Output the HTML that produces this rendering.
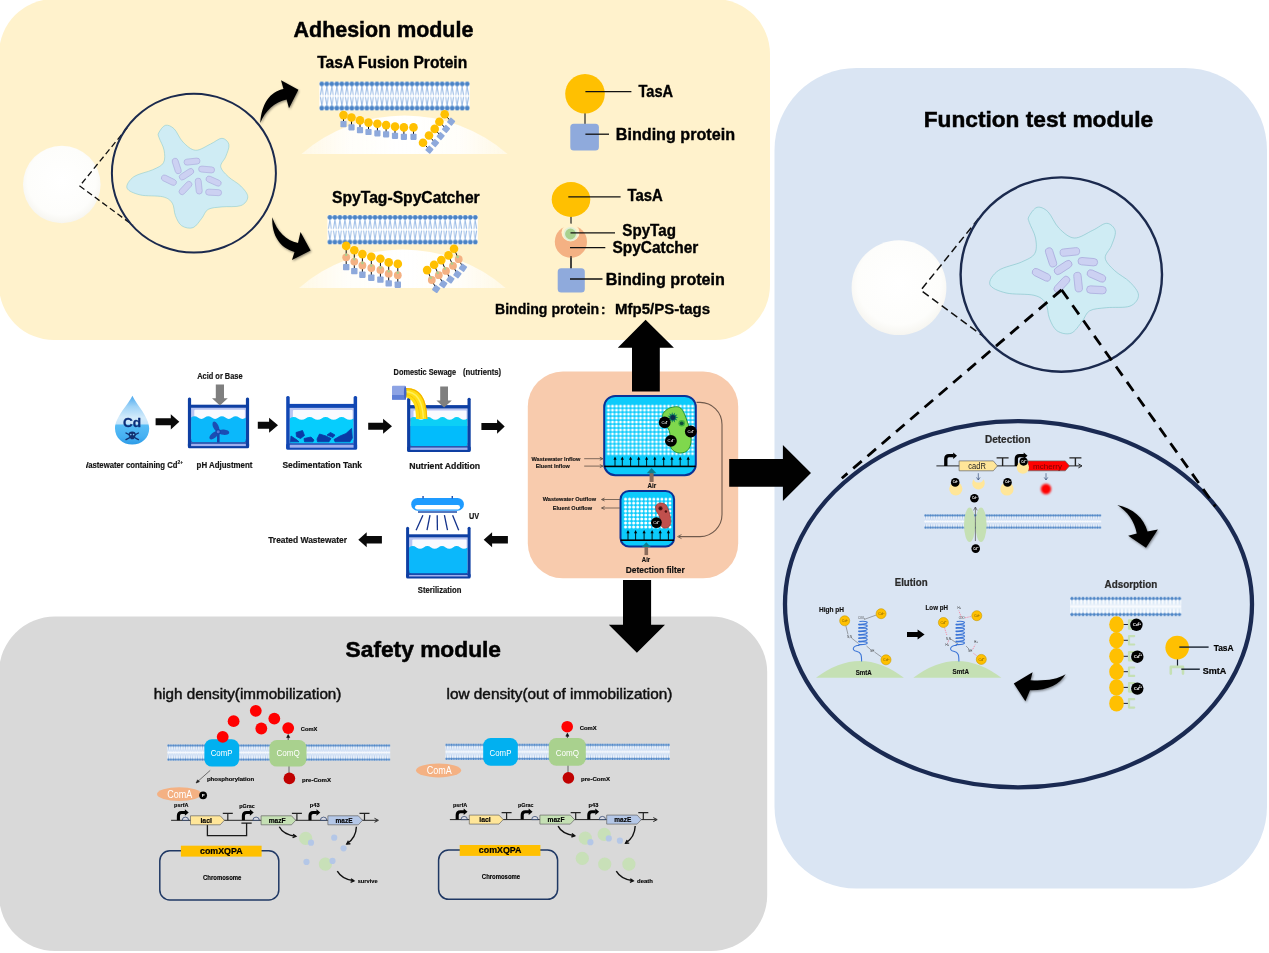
<!DOCTYPE html>
<html><head><meta charset="utf-8"><title>Module overview</title>
<style>
html,body{margin:0;padding:0;background:#fff;}
body{width:1269px;height:953px;overflow:hidden;font-family:"Liberation Sans",sans-serif;}
svg{display:block;will-change:transform;opacity:0.9999;}
text{font-family:"Liberation Sans",sans-serif;}
</style></head><body>
<svg width="1269" height="953" viewBox="0 0 1269 953">
<!-- p01_panels.py -->
<defs>
<filter id="sh" x="-30%" y="-30%" width="160%" height="160%"><feDropShadow dx="0.8" dy="1.2" stdDeviation="1.2" flood-color="#000" flood-opacity="0.45"/></filter>
<filter id="soft" x="-20%" y="-20%" width="140%" height="140%"><feGaussianBlur stdDeviation="0.6"/></filter>
<filter id="glow" x="-50%" y="-50%" width="200%" height="200%"><feGaussianBlur stdDeviation="0.9"/></filter>
<radialGradient id="sph" cx="0.5" cy="0.45" r="0.55"><stop offset="0" stop-color="#ffffff"/><stop offset="0.8" stop-color="#fdfdfb"/><stop offset="1" stop-color="#f6f5f0"/></radialGradient>
<linearGradient id="moundg" x1="0" y1="0" x2="1" y2="0"><stop offset="0" stop-color="#fffefb" stop-opacity="0.55"/><stop offset="0.22" stop-color="#fffefb" stop-opacity="0.95"/><stop offset="0.5" stop-color="#ffffff" stop-opacity="1"/><stop offset="0.78" stop-color="#fffefb" stop-opacity="0.95"/><stop offset="1" stop-color="#fffefb" stop-opacity="0.55"/></linearGradient>
<linearGradient id="mound" x1="0" y1="0" x2="0" y2="1"><stop offset="0" stop-color="#fffdf6"/><stop offset="1" stop-color="#ffffff"/></linearGradient>
</defs>
<rect x="0" y="0" width="1269" height="953" fill="#ffffff"/>
<rect x="-1" y="-1" width="771" height="341" rx="55" ry="55" fill="#fff2cc"/>
<rect x="774.5" y="68" width="492.5" height="820.5" rx="82" ry="82" fill="#dae5f3"/>
<rect x="-1" y="616.5" width="768.2" height="334.5" rx="56" ry="56" fill="#d9d9d9"/>
<rect x="527.8" y="371.5" width="210.4" height="206.8" rx="35" ry="35" fill="#f8cbad"/>
<!-- big arrows -->
<path d="M645.6 319.7 L673.9 347.8 L659.8 347.8 L659.8 391.5 L632 391.5 L632 347.8 L617.8 347.8 Z" fill="#000"/>
<path d="M729.2 459.1 L782.9 459.1 L782.9 445.1 L811 473 L782.9 501 L782.9 486.8 L729.2 486.8 Z" fill="#000"/>
<path d="M623 579.9 L651.1 579.9 L651.1 624.8 L665 624.8 L636.9 652.8 L608.8 624.8 L623 624.8 Z" fill="#000"/>

<!-- p02_adhesion.py -->
<text x="293.6" y="37.0" font-size="22.55" font-weight="bold" text-anchor="start" fill="#000" textLength="179.7" lengthAdjust="spacingAndGlyphs"  stroke="#000" stroke-width="0.50">Adhesion module</text><text x="317.2" y="67.8" font-size="15.73" font-weight="bold" text-anchor="start" fill="#000" textLength="150.0" lengthAdjust="spacingAndGlyphs"  stroke="#000" stroke-width="0.35">TasA Fusion Protein</text><text x="332.0" y="203.4" font-size="15.73" font-weight="bold" text-anchor="start" fill="#000" textLength="147.7" lengthAdjust="spacingAndGlyphs"  stroke="#000" stroke-width="0.35">SpyTag-SpyCatcher</text><circle cx="61.8" cy="184.5" r="38.8" fill="url(#sph)" filter="url(#soft)"/><path d="M127.3 127.6 L79.7 186 L132.9 225.2" fill="none" stroke="#111" stroke-width="1.3" stroke-dasharray="6 3.4"/><ellipse cx="193.9" cy="173.2" rx="82" ry="79.4" fill="none" stroke="#1b2a4e" stroke-width="2"/><g transform="translate(186.5 176.9) scale(1.000)"><path d="M-27.8 -44.0 C-26.78 -46.08 -23.73 -50.91 -21.15 -51.58 C-18.57 -52.25 -15.28 -50.84 -12.34 -48.05 C-9.41 -45.26 -7.10 -38.41 -3.53 -34.84 C0.03 -31.27 4.44 -26.97 9.05 -26.66 C13.67 -26.34 19.75 -30.96 24.16 -32.95 C28.56 -34.94 32.44 -38.72 35.49 -38.61 C38.53 -38.51 41.78 -35.36 42.41 -32.32 C43.04 -29.28 40.63 -24.04 39.26 -20.36 C37.90 -16.69 33.81 -13.65 34.23 -10.30 C34.65 -6.94 38.42 -3.48 41.78 -0.23 C45.14 3.03 51.11 5.86 54.37 9.21 C57.62 12.57 61.29 16.66 61.29 19.91 C61.29 23.16 58.67 27.04 54.37 28.72 C50.06 30.40 40.94 29.35 35.49 29.98 C30.03 30.61 25.00 30.61 21.64 32.50 C18.28 34.39 17.86 38.27 15.35 41.31 C12.83 44.35 9.89 49.49 6.54 50.75 C3.18 52.01 -1.85 50.85 -4.79 48.86 C-7.73 46.87 -9.51 42.57 -11.08 38.79 C-12.66 35.02 -12.13 29.35 -14.23 26.21 C-16.33 23.06 -18.32 21.28 -23.67 19.91 C-29.02 18.55 -40.35 19.49 -46.33 18.02 C-52.31 16.56 -58.49 14.14 -59.54 11.10 C-60.59 8.06 -56.92 2.82 -52.62 -0.23 C-48.32 -3.27 -38.67 -4.84 -33.74 -7.15 C-28.81 -9.46 -24.93 -10.82 -23.04 -14.07 C-21.15 -17.32 -21.68 -22.46 -22.41 -26.66 C-23.15 -30.85 -26.55 -36.35 -27.45 -39.24 C-28.35 -42.14 -28.87 -41.97 -27.82 -44.03 Z" fill="#cfecf4" stroke="#7fc4c9" stroke-width="0.5"/><rect x="-8" y="-3" width="16" height="6" rx="3" transform="translate(-9.8 -10.9) rotate(72)" fill="#ccd1f2" stroke="#a9a9dc" stroke-width="0.6"/><rect x="-8" y="-3" width="16" height="6" rx="3" transform="translate(5.5 -15.3) rotate(-6)" fill="#ccd1f2" stroke="#a9a9dc" stroke-width="0.6"/><rect x="-8" y="-3" width="16" height="6" rx="3" transform="translate(20.1 -7.4) rotate(5)" fill="#ccd1f2" stroke="#a9a9dc" stroke-width="0.6"/><rect x="-8" y="-3" width="16" height="6" rx="3" transform="translate(0.0 -2.7) rotate(-33)" fill="#ccd1f2" stroke="#a9a9dc" stroke-width="0.6"/><rect x="-8" y="-3" width="16" height="6" rx="3" transform="translate(-17.6 3.3) rotate(26)" fill="#ccd1f2" stroke="#a9a9dc" stroke-width="0.6"/><rect x="-8" y="-3" width="16" height="6" rx="3" transform="translate(27.1 4.2) rotate(24)" fill="#ccd1f2" stroke="#a9a9dc" stroke-width="0.6"/><rect x="-8" y="-3" width="16" height="6" rx="3" transform="translate(-1.0 11.1) rotate(-47)" fill="#ccd1f2" stroke="#a9a9dc" stroke-width="0.6"/><rect x="-8" y="-3" width="16" height="6" rx="3" transform="translate(12.2 9.2) rotate(84)" fill="#ccd1f2" stroke="#a9a9dc" stroke-width="0.6"/><rect x="-8" y="-3" width="16" height="6" rx="3" transform="translate(27.1 15.5) rotate(3)" fill="#ccd1f2" stroke="#a9a9dc" stroke-width="0.6"/></g><g filter="url(#sh)"><path d="M260.3 123 C261.5 104 270 91.5 283.5 89 L281 80.3 L298.4 89.8 L289 108.2 L286.6 99.6 C274.5 102 265.5 110.5 260.3 123 Z" fill="#000"/><path d="M272.3 217.3 C277 231.5 286 240.5 298 243 L300.5 232 L310.6 250.6 L292 260 L294.5 252 C280.5 248 271.5 236 272.3 217.3 Z" fill="#000"/></g><path d="M301.5 154 A157.3 157.3 0 0 1 507.5 154 Z" fill="url(#moundg)" filter="url(#soft)"/><path d="M299 288 A158 158 0 0 1 505.6 288 Z" fill="url(#moundg)" filter="url(#soft)"/><pattern id="mbA" x="319.30" y="81.60" width="5.013" height="28.80" patternUnits="userSpaceOnUse"><rect width="5.013" height="28.80" fill="#ffffff"/><path d="M2.51 4.60 L1.15 13.50 M2.51 4.60 L3.86 13.50 M2.51 24.20 L1.15 15.30 M2.51 24.20 L3.86 15.30" stroke="#9dbde6" stroke-width="1.00" fill="none"/><circle cx="2.51" cy="2.30" r="2.30" fill="#4a83c6"/><circle cx="2.51" cy="26.50" r="2.30" fill="#4a83c6"/></pattern><rect x="319.30" y="81.60" width="150.40" height="28.80" fill="url(#mbA)"/><pattern id="mbB" x="327.40" y="215.10" width="5.013" height="29.20" patternUnits="userSpaceOnUse"><rect width="5.013" height="29.20" fill="#ffffff"/><path d="M2.51 4.60 L1.15 13.70 M2.51 4.60 L3.86 13.70 M2.51 24.60 L1.15 15.50 M2.51 24.60 L3.86 15.50" stroke="#9dbde6" stroke-width="1.00" fill="none"/><circle cx="2.51" cy="2.30" r="2.30" fill="#4a83c6"/><circle cx="2.51" cy="26.90" r="2.30" fill="#4a83c6"/></pattern><rect x="327.40" y="215.10" width="150.40" height="29.20" fill="url(#mbB)"/><line x1="343.5" y1="115.1" x2="343.5" y2="123.8" stroke="#111" stroke-width="1.0"/><line x1="351.5" y1="117.5" x2="351.5" y2="127.0" stroke="#111" stroke-width="1.0"/><line x1="360.0" y1="120.4" x2="360.0" y2="129.8" stroke="#111" stroke-width="1.0"/><line x1="368.5" y1="122.6" x2="368.5" y2="131.7" stroke="#111" stroke-width="1.0"/><line x1="377.4" y1="123.8" x2="377.4" y2="133.0" stroke="#111" stroke-width="1.0"/><line x1="386.1" y1="125.1" x2="386.1" y2="134.0" stroke="#111" stroke-width="1.0"/><line x1="395.0" y1="126.6" x2="395.0" y2="135.5" stroke="#111" stroke-width="1.0"/><line x1="403.9" y1="127.4" x2="403.9" y2="136.5" stroke="#111" stroke-width="1.0"/><line x1="413.5" y1="127.4" x2="413.5" y2="136.5" stroke="#111" stroke-width="1.0"/><line x1="444.7" y1="114.3" x2="451.1" y2="121.7" stroke="#111" stroke-width="1.0"/><line x1="439.4" y1="121.7" x2="446.0" y2="128.9" stroke="#111" stroke-width="1.0"/><line x1="434.7" y1="128.9" x2="440.7" y2="136.1" stroke="#111" stroke-width="1.0"/><line x1="429.0" y1="135.5" x2="435.1" y2="143.1" stroke="#111" stroke-width="1.0"/><line x1="423.0" y1="142.7" x2="429.4" y2="149.7" stroke="#111" stroke-width="1.0"/><rect x="340.4" y="121.0" width="6.2" height="6.2" rx="0.8" fill="#8ea9db"/><rect x="348.4" y="124.2" width="6.2" height="6.2" rx="0.8" fill="#8ea9db"/><rect x="356.9" y="127.0" width="6.2" height="6.2" rx="0.8" fill="#8ea9db"/><rect x="365.4" y="128.9" width="6.2" height="6.2" rx="0.8" fill="#8ea9db"/><rect x="374.3" y="130.2" width="6.2" height="6.2" rx="0.8" fill="#8ea9db"/><rect x="383.0" y="131.2" width="6.2" height="6.2" rx="0.8" fill="#8ea9db"/><rect x="391.9" y="132.7" width="6.2" height="6.2" rx="0.8" fill="#8ea9db"/><rect x="400.8" y="133.7" width="6.2" height="6.2" rx="0.8" fill="#8ea9db"/><rect x="410.4" y="133.7" width="6.2" height="6.2" rx="0.8" fill="#8ea9db"/><rect x="-3.1" y="-3.1" width="6.2" height="6.2" rx="0.8" fill="#8ea9db" transform="translate(451.1 121.7) rotate(40)"/><rect x="-3.1" y="-3.1" width="6.2" height="6.2" rx="0.8" fill="#8ea9db" transform="translate(446.0 128.9) rotate(40)"/><rect x="-3.1" y="-3.1" width="6.2" height="6.2" rx="0.8" fill="#8ea9db" transform="translate(440.7 136.1) rotate(40)"/><rect x="-3.1" y="-3.1" width="6.2" height="6.2" rx="0.8" fill="#8ea9db" transform="translate(435.1 143.1) rotate(40)"/><rect x="-3.1" y="-3.1" width="6.2" height="6.2" rx="0.8" fill="#8ea9db" transform="translate(429.4 149.7) rotate(40)"/><circle cx="343.5" cy="115.1" r="4.3" fill="#ffc000"/><circle cx="351.5" cy="117.5" r="4.3" fill="#ffc000"/><circle cx="360.0" cy="120.4" r="4.3" fill="#ffc000"/><circle cx="368.5" cy="122.6" r="4.3" fill="#ffc000"/><circle cx="377.4" cy="123.8" r="4.3" fill="#ffc000"/><circle cx="386.1" cy="125.1" r="4.3" fill="#ffc000"/><circle cx="395.0" cy="126.6" r="4.3" fill="#ffc000"/><circle cx="403.9" cy="127.4" r="4.3" fill="#ffc000"/><circle cx="413.5" cy="127.4" r="4.3" fill="#ffc000"/><circle cx="444.7" cy="114.3" r="4.3" fill="#ffc000"/><circle cx="439.4" cy="121.7" r="4.3" fill="#ffc000"/><circle cx="434.7" cy="128.9" r="4.3" fill="#ffc000"/><circle cx="429.0" cy="135.5" r="4.3" fill="#ffc000"/><circle cx="423.0" cy="142.7" r="4.3" fill="#ffc000"/><path d="M346.2 245.9 L346.2 257.3 L346.2 267.1" stroke="#111" stroke-width="1.0" fill="none"/><path d="M354.3 250.3 L354.3 261.6 L354.3 271.1" stroke="#111" stroke-width="1.0" fill="none"/><path d="M362.4 254.1 L362.4 265.4 L362.4 274.7" stroke="#111" stroke-width="1.0" fill="none"/><path d="M371.3 256.7 L371.3 268.0 L371.3 277.7" stroke="#111" stroke-width="1.0" fill="none"/><path d="M380.4 258.8 L380.4 269.9 L380.4 279.6" stroke="#111" stroke-width="1.0" fill="none"/><path d="M388.7 262.4 L388.7 273.7 L388.7 283.4" stroke="#111" stroke-width="1.0" fill="none"/><path d="M397.8 263.9 L397.8 275.2 L397.8 284.7" stroke="#111" stroke-width="1.0" fill="none"/><path d="M454.0 248.8 L458.7 259.2 L463.0 267.7" stroke="#111" stroke-width="1.0" fill="none"/><path d="M448.5 255.4 L453.0 265.8 L457.4 274.3" stroke="#111" stroke-width="1.0" fill="none"/><path d="M441.3 260.1 L446.0 270.9 L450.4 279.4" stroke="#111" stroke-width="1.0" fill="none"/><path d="M434.1 264.8 L438.8 275.2 L443.2 284.1" stroke="#111" stroke-width="1.0" fill="none"/><path d="M427.1 270.1 L431.8 280.0 L436.2 288.9" stroke="#111" stroke-width="1.0" fill="none"/><rect x="-3.2" y="-3.2" width="6.4" height="6.4" rx="0.8" fill="#8ea9db" transform="translate(346.2 267.1) rotate(0)"/><rect x="-3.2" y="-3.2" width="6.4" height="6.4" rx="0.8" fill="#8ea9db" transform="translate(354.3 271.1) rotate(0)"/><rect x="-3.2" y="-3.2" width="6.4" height="6.4" rx="0.8" fill="#8ea9db" transform="translate(362.4 274.7) rotate(0)"/><rect x="-3.2" y="-3.2" width="6.4" height="6.4" rx="0.8" fill="#8ea9db" transform="translate(371.3 277.7) rotate(0)"/><rect x="-3.2" y="-3.2" width="6.4" height="6.4" rx="0.8" fill="#8ea9db" transform="translate(380.4 279.6) rotate(0)"/><rect x="-3.2" y="-3.2" width="6.4" height="6.4" rx="0.8" fill="#8ea9db" transform="translate(388.7 283.4) rotate(0)"/><rect x="-3.2" y="-3.2" width="6.4" height="6.4" rx="0.8" fill="#8ea9db" transform="translate(397.8 284.7) rotate(0)"/><rect x="-3.2" y="-3.2" width="6.4" height="6.4" rx="0.8" fill="#8ea9db" transform="translate(463.0 267.7) rotate(35)"/><rect x="-3.2" y="-3.2" width="6.4" height="6.4" rx="0.8" fill="#8ea9db" transform="translate(457.4 274.3) rotate(35)"/><rect x="-3.2" y="-3.2" width="6.4" height="6.4" rx="0.8" fill="#8ea9db" transform="translate(450.4 279.4) rotate(35)"/><rect x="-3.2" y="-3.2" width="6.4" height="6.4" rx="0.8" fill="#8ea9db" transform="translate(443.2 284.1) rotate(35)"/><rect x="-3.2" y="-3.2" width="6.4" height="6.4" rx="0.8" fill="#8ea9db" transform="translate(436.2 288.9) rotate(35)"/><circle cx="346.2" cy="257.3" r="3.9" fill="#f4b183"/><circle cx="354.3" cy="261.6" r="3.9" fill="#f4b183"/><circle cx="362.4" cy="265.4" r="3.9" fill="#f4b183"/><circle cx="371.3" cy="268.0" r="3.9" fill="#f4b183"/><circle cx="380.4" cy="269.9" r="3.9" fill="#f4b183"/><circle cx="388.7" cy="273.7" r="3.9" fill="#f4b183"/><circle cx="397.8" cy="275.2" r="3.9" fill="#f4b183"/><circle cx="458.7" cy="259.2" r="3.9" fill="#f4b183"/><circle cx="453.0" cy="265.8" r="3.9" fill="#f4b183"/><circle cx="446.0" cy="270.9" r="3.9" fill="#f4b183"/><circle cx="438.8" cy="275.2" r="3.9" fill="#f4b183"/><circle cx="431.8" cy="280.0" r="3.9" fill="#f4b183"/><circle cx="346.2" cy="254.8" r="1.3" fill="#a9d18e"/><circle cx="354.3" cy="259.1" r="1.3" fill="#a9d18e"/><circle cx="362.4" cy="262.9" r="1.3" fill="#a9d18e"/><circle cx="371.3" cy="265.6" r="1.3" fill="#a9d18e"/><circle cx="380.4" cy="267.5" r="1.3" fill="#a9d18e"/><circle cx="388.7" cy="271.2" r="1.3" fill="#a9d18e"/><circle cx="397.8" cy="272.7" r="1.3" fill="#a9d18e"/><circle cx="457.7" cy="256.9" r="1.3" fill="#a9d18e"/><circle cx="452.0" cy="263.5" r="1.3" fill="#a9d18e"/><circle cx="445.0" cy="268.5" r="1.3" fill="#a9d18e"/><circle cx="437.8" cy="272.9" r="1.3" fill="#a9d18e"/><circle cx="430.8" cy="277.8" r="1.3" fill="#a9d18e"/><circle cx="346.2" cy="245.9" r="4.3" fill="#ffc000"/><circle cx="354.3" cy="250.3" r="4.3" fill="#ffc000"/><circle cx="362.4" cy="254.1" r="4.3" fill="#ffc000"/><circle cx="371.3" cy="256.7" r="4.3" fill="#ffc000"/><circle cx="380.4" cy="258.8" r="4.3" fill="#ffc000"/><circle cx="388.7" cy="262.4" r="4.3" fill="#ffc000"/><circle cx="397.8" cy="263.9" r="4.3" fill="#ffc000"/><circle cx="454.0" cy="248.8" r="4.3" fill="#ffc000"/><circle cx="448.5" cy="255.4" r="4.3" fill="#ffc000"/><circle cx="441.3" cy="260.1" r="4.3" fill="#ffc000"/><circle cx="434.1" cy="264.8" r="4.3" fill="#ffc000"/><circle cx="427.1" cy="270.1" r="4.3" fill="#ffc000"/><line x1="585" y1="110" x2="585" y2="126" stroke="#222" stroke-width="1.2"/><circle cx="585" cy="93.8" r="19.8" fill="#ffc000"/><rect x="570.3" y="123.8" width="28.6" height="26.7" rx="3.5" fill="#8faadc"/><line x1="585.4" y1="91.7" x2="631.4" y2="91.7" stroke="#111" stroke-width="1.3"/><line x1="585.4" y1="134.2" x2="609" y2="134.2" stroke="#111" stroke-width="1.3"/><text x="638.5" y="96.9" font-size="15.73" font-weight="bold" text-anchor="start" fill="#000" textLength="34.6" lengthAdjust="spacingAndGlyphs"  stroke="#000" stroke-width="0.35">TasA</text><text x="615.8" y="139.8" font-size="15.73" font-weight="bold" text-anchor="start" fill="#000" textLength="119.2" lengthAdjust="spacingAndGlyphs"  stroke="#000" stroke-width="0.35">Binding protein</text><line x1="571" y1="214" x2="571" y2="270" stroke="#222" stroke-width="1.2"/><ellipse cx="571" cy="199.5" rx="19.3" ry="17.4" fill="#ffc000"/><circle cx="570.9" cy="241.7" r="16.1" fill="#f4b183"/><circle cx="570.5" cy="232.5" r="9" fill="#fff2cc"/><circle cx="570.5" cy="234" r="6.2" fill="#a9d18e" stroke="#e2efd9" stroke-width="1.6"/><line x1="571" y1="256" x2="571" y2="270" stroke="#222" stroke-width="1.2"/><rect x="557.7" y="268.2" width="27.1" height="24.3" rx="3.5" fill="#8faadc"/><line x1="568.3" y1="196.9" x2="620.6" y2="196.9" stroke="#111" stroke-width="1.3"/><line x1="570.5" y1="232.9" x2="615" y2="232.9" stroke="#111" stroke-width="1.3"/><line x1="570" y1="247.7" x2="605.3" y2="247.7" stroke="#111" stroke-width="1.3"/><line x1="570" y1="279" x2="602.5" y2="279" stroke="#111" stroke-width="1.3"/><text x="627.4" y="200.9" font-size="15.73" font-weight="bold" text-anchor="start" fill="#000" textLength="35.3" lengthAdjust="spacingAndGlyphs"  stroke="#000" stroke-width="0.35">TasA</text><text x="622.3" y="235.8" font-size="15.73" font-weight="bold" text-anchor="start" fill="#000" textLength="53.6" lengthAdjust="spacingAndGlyphs"  stroke="#000" stroke-width="0.35">SpyTag</text><text x="612.4" y="252.7" font-size="15.73" font-weight="bold" text-anchor="start" fill="#000" textLength="86.0" lengthAdjust="spacingAndGlyphs"  stroke="#000" stroke-width="0.35">SpyCatcher</text><text x="605.8" y="284.7" font-size="15.73" font-weight="bold" text-anchor="start" fill="#000" textLength="119.1" lengthAdjust="spacingAndGlyphs"  stroke="#000" stroke-width="0.35">Binding protein</text><text x="495.0" y="313.9" font-size="14.74" font-weight="bold" text-anchor="start" fill="#000" textLength="104.2" lengthAdjust="spacingAndGlyphs"  stroke="#000" stroke-width="0.32">Binding protein</text><text x="601.0" y="313.9" font-size="13.40" font-weight="bold" text-anchor="start" fill="#000"  stroke="#000" stroke-width="0.29">:</text><text x="615.0" y="313.9" font-size="14.74" font-weight="bold" text-anchor="start" fill="#000" textLength="95.1" lengthAdjust="spacingAndGlyphs"  stroke="#000" stroke-width="0.32">Mfp5/PS-tags</text>
<!-- p03_flow.py -->
<defs><linearGradient id="drop" x1="0" y1="0" x2="0" y2="1"><stop offset="0" stop-color="#4aa9ee"/><stop offset="0.22" stop-color="#9fd3f7"/><stop offset="0.45" stop-color="#d3ebfb"/><stop offset="0.575" stop-color="#c4e4fa"/><stop offset="0.6" stop-color="#58bdf6"/><stop offset="0.85" stop-color="#45b0f2"/><stop offset="1" stop-color="#2c9ae6"/></linearGradient>
<clipPath id="cutW"><rect x="86.1" y="455" width="120" height="16"/></clipPath></defs><path d="M132.4 395.8 C136 404 149.2 417 149.2 428.5 C149.2 437.8 141.7 444.6 132.2 444.6 C122.7 444.6 115 437.8 115 428.5 C115 417 128.8 404 132.4 395.8 Z" fill="url(#drop)"/><text x="132.1" y="426.5" font-size="13.20" font-weight="bold" text-anchor="middle" fill="#0b2f7a" textLength="18.2" lengthAdjust="spacingAndGlyphs"  stroke="#0b2f7a" stroke-width="0.29">Cd</text><g stroke="#12306f" stroke-width="1.4" stroke-linecap="round"><line x1="126" y1="433" x2="138.4" y2="439.6"/><line x1="138.4" y1="433" x2="126" y2="439.6"/></g><ellipse cx="132.2" cy="434.6" rx="3.6" ry="3.2" fill="#12306f"/><rect x="130.4" y="436.5" width="3.6" height="2.8" rx="0.8" fill="#12306f"/><circle cx="130.8" cy="434.6" r="0.8" fill="#7cc6f4"/><circle cx="133.6" cy="434.6" r="0.8" fill="#7cc6f4"/><path d="M155.6 418.3 L170.8 418.3 L170.8 414.2 L179.3 421.8 L170.8 429.4 L170.8 425.3 L155.6 425.3 Z" fill="#0a0a0a"/><path d="M257.8 421.7 L269.1 421.7 L269.1 417.7 L278.0 425.2 L269.1 432.7 L269.1 428.7 L257.8 428.7 Z" fill="#0a0a0a"/><path d="M368.2 422.7 L383.1 422.7 L383.1 418.7 L392.0 426.2 L383.1 433.7 L383.1 429.7 L368.2 429.7 Z" fill="#0a0a0a"/><path d="M481.4 423.0 L497.1 423.0 L497.1 419.2 L504.7 426.5 L497.1 433.8 L497.1 430.0 L481.4 430.0 Z" fill="#0a0a0a"/><path d="M507.9 536.0 L492.1 536.0 L492.1 532.3 L483.7 539.8 L492.1 547.3 L492.1 543.6 L507.9 543.6 Z" fill="#0a0a0a"/><path d="M381.9 536.0 L366.7 536.0 L366.7 532.3 L358.3 539.8 L366.7 547.3 L366.7 543.6 L381.9 543.6 Z" fill="#0a0a0a"/><rect x="191.1" y="407.8" width="54.8" height="12.8" fill="#b9c5f2"/><rect x="194.3" y="409.8" width="50.6" height="10.8" rx="1" fill="#f9faff"/><rect x="191.1" y="439.2" width="54.8" height="3.5" fill="#0e3fa3"/><path d="M191.10 417.60 Q194.53 415.00 197.95 417.60 Q201.38 420.20 204.80 417.60 Q208.23 415.00 211.65 417.60 Q215.08 420.20 218.50 417.60 Q221.93 415.00 225.35 417.60 Q228.78 420.20 232.20 417.60 Q235.62 415.00 239.05 417.60 Q242.47 420.20 245.90 417.60 L245.90 439.70 Q245.90 442.20 243.40 442.20 L193.60 442.20 Q191.10 442.20 191.10 439.70 Z" fill="#0bb8fb"/><rect x="187.9" y="442.4" width="61.2" height="5.8" rx="1.5" fill="#0e3fa3"/><rect x="190.5" y="443.7" width="56.0" height="2.4" fill="#9fb0ee"/><rect x="187.9" y="397.5" width="3.2" height="49.7" rx="1.5" fill="#0e3fa3"/><rect x="245.9" y="397.5" width="3.2" height="49.7" rx="1.5" fill="#0e3fa3"/><rect x="188.9" y="404.7" width="59.2" height="3.1" fill="#0e3fa3"/><rect x="217" y="432" width="2.6" height="10.5" fill="#1646ad"/><ellipse cx="5.5" cy="0" rx="5.6" ry="2.7" fill="#1b4db3" transform="translate(218.2 431.7) rotate(-115)"/><ellipse cx="5.5" cy="0" rx="5.6" ry="2.7" fill="#1b4db3" transform="translate(218.2 431.7) rotate(5)"/><ellipse cx="5.5" cy="0" rx="5.6" ry="2.7" fill="#1b4db3" transform="translate(218.2 431.7) rotate(140)"/><circle cx="218.2" cy="431.7" r="2.6" fill="#1646ad"/><circle cx="218.2" cy="431.7" r="1.5" fill="#5577d6"/><path d="M215.8 384.6 L224.0 384.6 L224.0 398.2 L227.8 398.2 L219.9 405.6 L212.0 398.2 L215.8 398.2 Z" fill="#7f7f7f"/><rect x="289.7" y="407.9" width="63.9" height="13.5" fill="#b9c5f2"/><rect x="292.9" y="409.9" width="59.7" height="11.5" rx="1" fill="#f9faff"/><rect x="289.7" y="440.2" width="63.9" height="3.5" fill="#1147b4"/><path d="M289.70 418.40 Q293.69 415.80 297.69 418.40 Q301.68 421.00 305.68 418.40 Q309.67 415.80 313.66 418.40 Q317.66 421.00 321.65 418.40 Q325.64 415.80 329.64 418.40 Q333.63 421.00 337.62 418.40 Q341.62 415.80 345.61 418.40 Q349.61 421.00 353.60 418.40 L353.60 440.70 Q353.60 443.20 351.10 443.20 L292.20 443.20 Q289.70 443.20 289.70 440.70 Z" fill="#06cdfd"/><rect x="286.2" y="443.4" width="70.9" height="6.4" rx="1.5" fill="#1147b4"/><rect x="289.1" y="444.7" width="65.1" height="3.0" fill="#9fb0ee"/><rect x="286.2" y="396.0" width="3.5" height="52.8" rx="1.5" fill="#1147b4"/><rect x="353.6" y="396.0" width="3.5" height="52.8" rx="1.5" fill="#1147b4"/><rect x="287.2" y="403.9" width="68.9" height="4.0" fill="#1147b4"/><path d="M291 436 L297 440 L299 441.8 L290.5 441.8 Z" fill="#0a3aa6" stroke="#0a3aa6" stroke-width="0.8" stroke-linejoin="round"/><path d="M296 432.5 L302.5 430.5 L304.5 435.5 L300.5 438.5 L296.5 436.5 Z" fill="#0a3aa6" stroke="#0a3aa6" stroke-width="0.8" stroke-linejoin="round"/><path d="M304 438.5 L311 437 L314 440 L313 441.8 L304.5 441.8 Z" fill="#0a3aa6" stroke="#0a3aa6" stroke-width="0.8" stroke-linejoin="round"/><path d="M317 439 L319.5 434 L326 436 L331 438.5 L329 441.8 L317.5 441.8 Z" fill="#0a3aa6" stroke="#0a3aa6" stroke-width="0.8" stroke-linejoin="round"/><path d="M327 435 L330.5 432.5 L335 435 L333 437.5 Z" fill="#0a3aa6" stroke="#0a3aa6" stroke-width="0.8" stroke-linejoin="round"/><path d="M334 439.5 L340 436 L346 433.5 L351.5 428.5 L352.3 438 L350 441.8 L335 441.8 Z" fill="#0a3aa6" stroke="#0a3aa6" stroke-width="0.8" stroke-linejoin="round"/><rect x="410.3" y="408.5" width="57.2" height="12.9" fill="#b9c5f2"/><rect x="413.5" y="410.5" width="53.0" height="10.9" rx="1" fill="#f9faff"/><rect x="410.3" y="443.0" width="57.2" height="3.5" fill="#0e3fa3"/><path d="M410.30 418.40 Q413.88 415.80 417.45 418.40 Q421.03 421.00 424.60 418.40 Q428.18 415.80 431.75 418.40 Q435.33 421.00 438.90 418.40 Q442.47 415.80 446.05 418.40 Q449.62 421.00 453.20 418.40 Q456.77 415.80 460.35 418.40 Q463.93 421.00 467.50 418.40 L467.50 443.50 Q467.50 446.00 465.00 446.00 L412.80 446.00 Q410.30 446.00 410.30 443.50 Z" fill="#0ccff6"/><path d="M410.30 426.10 L467.50 426.10 L467.50 443.50 Q467.50 446.00 465.00 446.00 L412.80 446.00 Q410.30 446.00 410.30 443.50 Z" fill="#02bcfc"/><rect x="407.1" y="446.2" width="63.6" height="5.8" rx="1.5" fill="#0e3fa3"/><rect x="409.7" y="447.5" width="58.4" height="2.4" fill="#9fb0ee"/><rect x="407.1" y="397.8" width="3.2" height="53.2" rx="1.5" fill="#0e3fa3"/><rect x="467.5" y="397.8" width="3.2" height="53.2" rx="1.5" fill="#0e3fa3"/><rect x="408.1" y="405.1" width="61.6" height="3.4" fill="#0e3fa3"/><path d="M404.5 388.2 C420 387 426.8 398 427.4 419 L416 419 C416 405 413 398 404.5 397 Z" fill="#ffdd12"/><path d="M404.5 388.6 C419.5 387.6 426.2 398 426.8 419" fill="none" stroke="#f3b400" stroke-width="1.2"/><path d="M405 391.5 C416 391.5 422.5 399 423.4 418.5" fill="none" stroke="#ffef5a" stroke-width="1.4"/><path d="M405 394.5 C413.5 395 419 401 419.8 418.5" fill="none" stroke="#f6c200" stroke-width="0.9"/><rect x="392" y="385.8" width="13.8" height="13.9" rx="1" fill="#8da3e4"/><rect x="392" y="395" width="13.8" height="4.7" fill="#5f7fd6"/><ellipse cx="405.2" cy="392.8" rx="1.3" ry="6.6" fill="#4464c4"/><path d="M440.2 386.5 L448.0 386.5 L448.0 400.6 L451.8 400.6 L444.1 407.6 L436.4 400.6 L440.2 400.6 Z" fill="#7f7f7f"/><rect x="409.1" y="537.4" width="58.5" height="13.0" fill="#b9c5f2"/><rect x="412.3" y="539.4" width="54.3" height="11.0" rx="1" fill="#f9faff"/><rect x="409.1" y="570.4" width="58.5" height="3.5" fill="#0e3fa3"/><path d="M409.10 547.40 Q412.76 544.80 416.41 547.40 Q420.07 550.00 423.73 547.40 Q427.38 544.80 431.04 547.40 Q434.69 550.00 438.35 547.40 Q442.01 544.80 445.66 547.40 Q449.32 550.00 452.98 547.40 Q456.63 544.80 460.29 547.40 Q463.94 550.00 467.60 547.40 L467.60 570.90 Q467.60 573.40 465.10 573.40 L411.60 573.40 Q409.10 573.40 409.10 570.90 Z" fill="#0bb8fb"/><rect x="406.1" y="573.6" width="64.5" height="5.0" rx="1.5" fill="#0e3fa3"/><rect x="408.5" y="574.9" width="59.7" height="1.6" fill="#9fb0ee"/><rect x="406.1" y="526.7" width="3.0" height="50.9" rx="1.5" fill="#0e3fa3"/><rect x="467.6" y="526.7" width="3.0" height="50.9" rx="1.5" fill="#0e3fa3"/><rect x="407.1" y="534.3" width="62.5" height="3.1" fill="#0e3fa3"/><rect x="411.2" y="498" width="52.7" height="12.7" rx="6.3" fill="#1e9bff"/><rect x="415" y="505" width="45" height="4.4" rx="2.2" fill="#ffffff"/><rect x="418" y="511.3" width="39" height="1.4" fill="#0e3fa3"/><rect x="422.4" y="496" width="1.3" height="2.4" fill="#0e3fa3"/><rect x="451.6" y="496" width="1.3" height="2.4" fill="#0e3fa3"/><line x1="422.9" y1="515.2" x2="416.1" y2="530.2" stroke="#12318a" stroke-width="1.3"/><line x1="430.0" y1="515.2" x2="427.0" y2="530.2" stroke="#12318a" stroke-width="1.3"/><line x1="437.2" y1="515.2" x2="437.4" y2="530.2" stroke="#12318a" stroke-width="1.3"/><line x1="444.4" y1="515.2" x2="447.5" y2="530.2" stroke="#12318a" stroke-width="1.3"/><line x1="452.6" y1="515.2" x2="458.7" y2="530.2" stroke="#12318a" stroke-width="1.3"/><text x="197.2" y="378.9" font-size="9.02" font-weight="bold" text-anchor="start" fill="#151515" textLength="45.4" lengthAdjust="spacingAndGlyphs"  stroke="#151515" stroke-width="0.20">Acid or Base</text><text x="393.6" y="374.5" font-size="8.80" font-weight="bold" text-anchor="start" fill="#151515" textLength="62.5" lengthAdjust="spacingAndGlyphs"  stroke="#151515" stroke-width="0.19">Domestic Sewage</text><text x="463.0" y="374.5" font-size="8.80" font-weight="bold" text-anchor="start" fill="#151515" textLength="38.2" lengthAdjust="spacingAndGlyphs"  stroke="#151515" stroke-width="0.19">(nutrients)</text><g clip-path="url(#cutW)"><text x="81.2" y="467.6" font-size="9.02" font-weight="bold" text-anchor="start" fill="#151515" textLength="96.3" lengthAdjust="spacingAndGlyphs"  stroke="#151515" stroke-width="0.20">Wastewater containing Cd</text><text x="177.6" y="464.4" font-size="5.06" font-weight="bold" text-anchor="start" fill="#151515" textLength="5.6" lengthAdjust="spacingAndGlyphs"  stroke="#151515" stroke-width="0.11">2+</text></g><text x="196.6" y="467.5" font-size="9.02" font-weight="bold" text-anchor="start" fill="#151515" textLength="55.8" lengthAdjust="spacingAndGlyphs"  stroke="#151515" stroke-width="0.20">pH Adjustment</text><text x="282.5" y="468.0" font-size="9.02" font-weight="bold" text-anchor="start" fill="#151515" textLength="79.5" lengthAdjust="spacingAndGlyphs"  stroke="#151515" stroke-width="0.20">Sedimentation Tank</text><text x="409.2" y="468.6" font-size="9.02" font-weight="bold" text-anchor="start" fill="#151515" textLength="71.0" lengthAdjust="spacingAndGlyphs"  stroke="#151515" stroke-width="0.20">Nutrient Addition</text><text x="469.0" y="518.9" font-size="8.36" font-weight="bold" text-anchor="start" fill="#151515" textLength="10.2" lengthAdjust="spacingAndGlyphs"  stroke="#151515" stroke-width="0.18">UV</text><text x="417.8" y="592.7" font-size="8.80" font-weight="bold" text-anchor="start" fill="#151515" textLength="43.6" lengthAdjust="spacingAndGlyphs"  stroke="#151515" stroke-width="0.19">Sterilization</text><text x="268.2" y="542.5" font-size="9.02" font-weight="bold" text-anchor="start" fill="#151515" textLength="78.9" lengthAdjust="spacingAndGlyphs"  stroke="#151515" stroke-width="0.20">Treated Wastewater</text>
<!-- p04_filter.py -->
<defs><pattern id="dotsA" x="606.5" y="404.23" width="4" height="3.95" patternUnits="userSpaceOnUse"><circle cx="2" cy="1.975" r="1.5" fill="#fff"/></pattern><pattern id="dotsB" x="623.5" y="497.2" width="4.04" height="3.97" patternUnits="userSpaceOnUse"><circle cx="2.02" cy="1.985" r="1.5" fill="#fff"/></pattern></defs><path d="M696.5 402.4 L700 402.4 A22 22 0 0 1 722 424.4 L722 514.6 A22 22 0 0 1 700 536.6 L679 536.6" fill="none" stroke="#705a4c" stroke-width="1.1"/><path d="M681.5 534.6 L677.6 536.6 L681.5 538.6" fill="none" stroke="#6b5a4e" stroke-width="0.9"/><rect x="604.2" y="395.9" width="91.6" height="79.4" rx="11" fill="#0ccbfb" stroke="#0a3296" stroke-width="2"/><rect x="606.5" y="404.23" width="88" height="51.35" fill="url(#dotsA)"/><path d="M663.22 413.36 C664.14 411.83 666.28 409.69 668.36 408.59 C670.44 407.48 673.62 406.81 675.70 406.75 C677.78 406.69 679.38 406.99 680.84 408.22 C682.31 409.44 683.41 411.77 684.52 414.09 C685.62 416.42 686.54 419.48 687.45 422.17 C688.37 424.86 689.41 427.43 690.02 430.25 C690.64 433.07 691.13 436.37 691.13 439.06 C691.13 441.76 690.88 444.33 690.02 446.41 C689.17 448.49 687.76 450.45 685.98 451.55 C684.21 452.65 681.46 453.14 679.38 453.02 C677.29 452.89 674.97 451.91 673.50 450.81 C672.03 449.71 671.11 448.36 670.56 446.41 C670.01 444.45 670.32 441.27 670.20 439.06 C670.07 436.86 670.13 434.90 669.83 433.19 C669.52 431.47 669.22 430.49 668.36 428.78 C667.50 427.07 665.61 424.74 664.69 422.91 C663.77 421.07 663.10 419.36 662.85 417.77 C662.61 416.17 662.30 414.89 663.22 413.36 Z" fill="#7fd84d" stroke="#1e8c28" stroke-width="0.9"/><path d="M678.31 417.40 L675.72 418.26 L677.44 420.38 L674.79 419.70 L675.09 422.41 L673.23 420.41 L672.02 422.85 L671.54 420.17 L669.19 421.56 L670.24 419.05 L667.51 418.95 L669.75 417.40 L667.51 415.85 L670.24 415.75 L669.19 413.24 L671.54 414.63 L672.02 411.95 L673.23 414.39 L675.09 412.39 L674.79 415.10 L677.44 414.42 L675.72 416.54 Z" fill="#117a5e"/><circle cx="672.8" cy="417.4" r="2.5" fill="#0c2c4c"/><circle cx="681.7" cy="423.3" r="3.3" fill="#3fae3f"/><circle cx="681.7" cy="423.3" r="1.9" fill="#0f4f3c"/><circle cx="664.7" cy="422.4" r="5.9" fill="#000"/><text x="664.1" y="423.9" font-size="4.20" font-weight="normal" text-anchor="middle" fill="#fff" >Cd</text><text x="667.3" y="421.8" font-size="2.10" font-weight="normal" text-anchor="middle" fill="#fff" >2+</text><circle cx="690.8" cy="431.5" r="5.9" fill="#000"/><text x="690.2" y="433.0" font-size="4.20" font-weight="normal" text-anchor="middle" fill="#fff" >Cd</text><text x="693.4" y="430.9" font-size="2.10" font-weight="normal" text-anchor="middle" fill="#fff" >2+</text><circle cx="670.9" cy="440.9" r="5.9" fill="#000"/><text x="670.3" y="442.4" font-size="4.20" font-weight="normal" text-anchor="middle" fill="#fff" >Cd</text><text x="673.5" y="440.3" font-size="2.10" font-weight="normal" text-anchor="middle" fill="#fff" >2+</text><rect x="604.2" y="465.6" width="91.6" height="1.6" fill="#000"/><path d="M615.0 466.0 L615.0 458.5" stroke="#000" stroke-width="0.9"/><path d="M613.4 459.7 L615.0 456.5 L616.6 459.7 Z" fill="#000"/><path d="M622.3 466.0 L622.3 458.5" stroke="#000" stroke-width="0.9"/><path d="M620.7 459.7 L622.3 456.5 L623.9 459.7 Z" fill="#000"/><path d="M630.6 466.0 L630.6 458.5" stroke="#000" stroke-width="0.9"/><path d="M629.0 459.7 L630.6 456.5 L632.2 459.7 Z" fill="#000"/><path d="M638.7 466.0 L638.7 458.5" stroke="#000" stroke-width="0.9"/><path d="M637.1 459.7 L638.7 456.5 L640.3 459.7 Z" fill="#000"/><path d="M646.6 466.0 L646.6 458.5" stroke="#000" stroke-width="0.9"/><path d="M645.0 459.7 L646.6 456.5 L648.2 459.7 Z" fill="#000"/><path d="M654.8 466.0 L654.8 458.5" stroke="#000" stroke-width="0.9"/><path d="M653.2 459.7 L654.8 456.5 L656.4 459.7 Z" fill="#000"/><path d="M663.7 466.0 L663.7 458.5" stroke="#000" stroke-width="0.9"/><path d="M662.1 459.7 L663.7 456.5 L665.3 459.7 Z" fill="#000"/><path d="M671.9 466.0 L671.9 458.5" stroke="#000" stroke-width="0.9"/><path d="M670.3 459.7 L671.9 456.5 L673.5 459.7 Z" fill="#000"/><path d="M680.2 466.0 L680.2 458.5" stroke="#000" stroke-width="0.9"/><path d="M678.6 459.7 L680.2 456.5 L681.8 459.7 Z" fill="#000"/><path d="M688.2 466.0 L688.2 458.5" stroke="#000" stroke-width="0.9"/><path d="M686.6 459.7 L688.2 456.5 L689.8 459.7 Z" fill="#000"/><rect x="649.6" y="472.5" width="4" height="9.5" fill="#8a6c5c"/><path d="M646.8 473.2 L651.6 468 L656.4 473.2 Z" fill="#0e7d8f"/><text x="651.8" y="487.8" font-size="6.38" font-weight="bold" text-anchor="middle" fill="#111" textLength="8.6" lengthAdjust="spacingAndGlyphs"  stroke="#111" stroke-width="0.14">Air</text><rect x="620.5" y="490.9" width="53.6" height="55.6" rx="8.5" fill="#0ccbfb" stroke="#0a3296" stroke-width="2"/><rect x="623.5" y="497.2" width="48.5" height="31.76" fill="url(#dotsB)"/><path d="M655.6 508.5 C655 504.5 658.5 502.5 662.3 503 C666.2 503.5 668 507.5 669.2 512 C670.6 517.5 672 523 669.2 526.5 C666.8 529.2 661.5 528.6 660.5 524.5 C659.6 520.5 660.5 517.5 658.5 514.5 C657 512.5 656 511 655.6 508.5 Z" fill="#c0504d" stroke="#8e2f2c" stroke-width="0.6"/><circle cx="660.5" cy="508.4" r="2.1" fill="#5c1414"/><circle cx="660.5" cy="508.4" r="0.9" fill="#250808"/><circle cx="665.9" cy="511.5" r="1.2" fill="#4a1010"/><circle cx="656.4" cy="522.6" r="5.4" fill="#000"/><text x="655.8" y="524.0" font-size="3.90" font-weight="normal" text-anchor="middle" fill="#fff" >Cd</text><text x="658.8" y="522.0" font-size="1.95" font-weight="normal" text-anchor="middle" fill="#fff" >2+</text><rect x="620.5" y="539.4" width="53.6" height="1.6" fill="#000"/><path d="M628.0 540.0 L628.0 532.1" stroke="#000" stroke-width="0.9"/><path d="M626.4 533.3 L628.0 530.1 L629.6 533.3 Z" fill="#000"/><path d="M635.6 540.0 L635.6 532.1" stroke="#000" stroke-width="0.9"/><path d="M634.0 533.3 L635.6 530.1 L637.2 533.3 Z" fill="#000"/><path d="M644.1 540.0 L644.1 532.1" stroke="#000" stroke-width="0.9"/><path d="M642.5 533.3 L644.1 530.1 L645.7 533.3 Z" fill="#000"/><path d="M652.1 540.0 L652.1 532.1" stroke="#000" stroke-width="0.9"/><path d="M650.5 533.3 L652.1 530.1 L653.7 533.3 Z" fill="#000"/><path d="M660.2 540.0 L660.2 532.1" stroke="#000" stroke-width="0.9"/><path d="M658.6 533.3 L660.2 530.1 L661.8 533.3 Z" fill="#000"/><path d="M668.4 540.0 L668.4 532.1" stroke="#000" stroke-width="0.9"/><path d="M666.8 533.3 L668.4 530.1 L670.0 533.3 Z" fill="#000"/><rect x="644.5" y="546.5" width="3.6" height="8.6" fill="#8a6c5c"/><path d="M641.8 547 L646.3 542.3 L650.8 547 Z" fill="#0e7d8f"/><text x="646.0" y="562.0" font-size="6.38" font-weight="bold" text-anchor="middle" fill="#111" textLength="8.4" lengthAdjust="spacingAndGlyphs"  stroke="#111" stroke-width="0.14">Air</text><path d="M584.2 458.7 L602.5 458.7 M599.8 457.2 L603 458.7 L599.8 460.2" fill="none" stroke="#5e4f45" stroke-width="0.8"/><path d="M584.2 466.1 L602.5 466.1 M599.8 464.6 L603 466.1 L599.8 467.6" fill="none" stroke="#5e4f45" stroke-width="0.8"/><path d="M620 499.5 L602 499.5 M604.6 498.0 L601.4 499.5 L604.6 501.0" fill="none" stroke="#5e4f45" stroke-width="0.8"/><path d="M620 508.0 L602 508.0 M604.6 506.5 L601.4 508.0 L604.6 509.5" fill="none" stroke="#5e4f45" stroke-width="0.8"/><text x="531.5" y="460.7" font-size="6.16" font-weight="bold" text-anchor="start" fill="#111" textLength="48.8" lengthAdjust="spacingAndGlyphs"  stroke="#111" stroke-width="0.14">Wastewater Inflow</text><text x="535.7" y="468.1" font-size="6.16" font-weight="bold" text-anchor="start" fill="#111" textLength="34.1" lengthAdjust="spacingAndGlyphs"  stroke="#111" stroke-width="0.14">Eluent Inflow</text><text x="542.8" y="501.4" font-size="6.16" font-weight="bold" text-anchor="start" fill="#111" textLength="53.2" lengthAdjust="spacingAndGlyphs"  stroke="#111" stroke-width="0.14">Wastewater Outflow</text><text x="552.8" y="509.6" font-size="6.16" font-weight="bold" text-anchor="start" fill="#111" textLength="39.3" lengthAdjust="spacingAndGlyphs"  stroke="#111" stroke-width="0.14">Eluent Outflow</text><text x="625.8" y="572.8" font-size="9.02" font-weight="bold" text-anchor="start" fill="#111" textLength="58.9" lengthAdjust="spacingAndGlyphs"  stroke="#111" stroke-width="0.20">Detection filter</text>
<!-- p05_safety.py -->
<text x="345.6" y="656.9" font-size="22.55" font-weight="bold" text-anchor="start" fill="#000" textLength="155.4" lengthAdjust="spacingAndGlyphs"  stroke="#000" stroke-width="0.50">Safety module</text><text x="153.7" y="698.8" font-size="14.30" font-weight="normal" text-anchor="start" fill="#111" textLength="187.7" lengthAdjust="spacingAndGlyphs" stroke="#111" stroke-width="0.45">high density(immobilization)</text><text x="446.6" y="698.5" font-size="14.30" font-weight="normal" text-anchor="start" fill="#111" textLength="225.7" lengthAdjust="spacingAndGlyphs" stroke="#111" stroke-width="0.45">low density(out of immobilization)</text><pattern id="mbC" x="167.30" y="744.40" width="2.423" height="16.30" patternUnits="userSpaceOnUse"><rect width="2.423" height="16.30" fill="#f6f9fd"/><path d="M1.21 2.40 L0.56 7.25 M1.21 2.40 L1.87 7.25 M1.21 13.90 L0.56 9.05 M1.21 13.90 L1.87 9.05" stroke="#b3cbec" stroke-width="0.70" fill="none"/><circle cx="1.21" cy="1.20" r="1.20" fill="#4f86c6"/><circle cx="1.21" cy="15.10" r="1.20" fill="#4f86c6"/></pattern><rect x="167.30" y="744.40" width="222.90" height="16.30" fill="url(#mbC)"/><pattern id="mbD" x="445.40" y="743.70" width="2.439" height="16.30" patternUnits="userSpaceOnUse"><rect width="2.439" height="16.30" fill="#f6f9fd"/><path d="M1.22 2.40 L0.56 7.25 M1.22 2.40 L1.88 7.25 M1.22 13.90 L0.56 9.05 M1.22 13.90 L1.88 9.05" stroke="#b3cbec" stroke-width="0.70" fill="none"/><circle cx="1.22" cy="1.20" r="1.20" fill="#4f86c6"/><circle cx="1.22" cy="15.10" r="1.20" fill="#4f86c6"/></pattern><rect x="445.40" y="743.70" width="224.40" height="16.30" fill="url(#mbD)"/><path d="M288.2 740 L288.2 735.6 M286.7 737.6 L288.2 734.6 L289.7 737.6 Z" stroke="#111" stroke-width="0.7" fill="#111"/><line x1="289" y1="766" x2="289" y2="773" stroke="#333" stroke-width="0.7"/><rect x="204.4" y="739.3" width="34.8" height="27.3" rx="7.5" fill="#00b0f0"/><rect x="269.4" y="740.1" width="37.1" height="26.5" rx="7.5" fill="#a9d18e"/><text x="221.6" y="756.4" font-size="9.40" font-weight="normal" text-anchor="middle" fill="#fff" textLength="21.9" lengthAdjust="spacingAndGlyphs" >ComP</text><text x="288.2" y="756.4" font-size="9.40" font-weight="normal" text-anchor="middle" fill="#fff" textLength="23.4" lengthAdjust="spacingAndGlyphs" >ComQ</text><circle cx="222.7" cy="736.8" r="5.9" fill="#ff0000"/><circle cx="233.6" cy="721.2" r="5.9" fill="#ff0000"/><circle cx="255.8" cy="710.8" r="5.9" fill="#ff0000"/><circle cx="261.3" cy="728.5" r="5.9" fill="#ff0000"/><circle cx="274.3" cy="718.6" r="5.9" fill="#ff0000"/><circle cx="288.2" cy="728.1" r="5.9" fill="#ff0000"/><circle cx="289.4" cy="778.4" r="5.8" fill="#c00000"/><text x="300.8" y="730.8" font-size="6.16" font-weight="bold" text-anchor="start" fill="#000" textLength="16.5" lengthAdjust="spacingAndGlyphs"  stroke="#000" stroke-width="0.14">ComX</text><text x="302.0" y="781.7" font-size="6.16" font-weight="bold" text-anchor="start" fill="#000" textLength="29.0" lengthAdjust="spacingAndGlyphs"  stroke="#000" stroke-width="0.14">pre-ComX</text><text x="206.9" y="780.9" font-size="6.16" font-weight="bold" text-anchor="start" fill="#000" textLength="47.2" lengthAdjust="spacingAndGlyphs"  stroke="#000" stroke-width="0.14">phosphorylation</text><path d="M210.2 770.4 L196.4 782.7 M199.4 781.7 L196.1 783 L197.6 779.8 Z" stroke="#222" stroke-width="0.6" fill="#222"/><ellipse cx="179.2" cy="794.1" rx="22.2" ry="6.9" fill="#f4b183"/><text x="179.8" y="797.5" font-size="10.00" font-weight="normal" text-anchor="middle" fill="#fff" textLength="25.0" lengthAdjust="spacingAndGlyphs" >ComA</text><circle cx="203.1" cy="795.3" r="3.9" fill="#000"/><text x="203.1" y="796.9" font-size="4.40" font-weight="bold" text-anchor="middle" fill="#fff" >P</text><g transform="translate(0.0 0.0)"><path d="M171.1 820.3 L377 820.3 M374.5 818.3 L378.4 820.3 L374.5 822.3" fill="none" stroke="#111" stroke-width="0.9"/><path d="M178.4 820.3 L178.4 815.7 Q178.4 812.5 181.6 812.5 L185.3 812.5" fill="none" stroke="#000" stroke-width="3.1"/><path d="M184.9 809.2 L188.7 812.5 L184.9 815.8 Z" fill="#000"/><path d="M243.4 820.3 L243.4 815.7 Q243.4 812.5 246.6 812.5 L250.3 812.5" fill="none" stroke="#000" stroke-width="3.1"/><path d="M249.9 809.2 L253.7 812.5 L249.9 815.8 Z" fill="#000"/><path d="M310.0 820.3 L310.0 815.7 Q310.0 812.5 313.2 812.5 L316.9 812.5" fill="none" stroke="#000" stroke-width="3.1"/><path d="M316.5 809.2 L320.3 812.5 L316.5 815.8 Z" fill="#000"/><path d="M182.2 820.3 A3.2 3.2 0 0 1 188.6 820.3 Z" fill="#dcdde6" stroke="#1f3864" stroke-width="0.7"/><path d="M252.9 820.3 A3.2 3.2 0 0 1 259.3 820.3 Z" fill="#dcdde6" stroke="#1f3864" stroke-width="0.7"/><path d="M320.4 820.3 A3.2 3.2 0 0 1 326.8 820.3 Z" fill="#dcdde6" stroke="#1f3864" stroke-width="0.7"/><path d="M227.8 820.3 L227.8 813.4 M222.8 813.4 L232.8 813.4" fill="none" stroke="#222" stroke-width="1.2"/><path d="M296.9 820.3 L296.9 813.4 M291.9 813.4 L301.9 813.4" fill="none" stroke="#222" stroke-width="1.2"/><path d="M364.5 820.3 L364.5 813.4 M359.5 813.4 L369.5 813.4" fill="none" stroke="#222" stroke-width="1.2"/><path d="M207.4 824.6 L207.4 835.6 L246.6 835.6 L246.6 823.2 M241.4 823.2 L251.7 823.2" fill="none" stroke="#1a1a1a" stroke-width="1.3"/><path d="M190.5 815.8 L220.2 815.8 L224.4 820.3 L220.2 824.8 L190.5 824.8 Z" fill="#ffe699" stroke="#666" stroke-width="0.7"/><text x="206.2" y="822.8" font-size="7.70" font-weight="bold" text-anchor="middle" fill="#000" textLength="11.5" lengthAdjust="spacingAndGlyphs"  stroke="#000" stroke-width="0.17">lacI</text><path d="M261.1 815.8 L291.5 815.8 L295.7 820.3 L291.5 824.8 L261.1 824.8 Z" fill="#c5e0b4" stroke="#666" stroke-width="0.7"/><text x="277.2" y="822.8" font-size="7.70" font-weight="bold" text-anchor="middle" fill="#000" textLength="17.0" lengthAdjust="spacingAndGlyphs"  stroke="#000" stroke-width="0.17">mazF</text><path d="M327.9 815.8 L358.3 815.8 L362.5 820.3 L358.3 824.8 L327.9 824.8 Z" fill="#b4c7e7" stroke="#666" stroke-width="0.7"/><text x="344.0" y="822.8" font-size="7.70" font-weight="bold" text-anchor="middle" fill="#000" textLength="17.0" lengthAdjust="spacingAndGlyphs"  stroke="#000" stroke-width="0.17">mazE</text><text x="174.1" y="807.4" font-size="5.94" font-weight="bold" text-anchor="start" fill="#000" textLength="14.4" lengthAdjust="spacingAndGlyphs"  stroke="#000" stroke-width="0.13">psrfA</text><text x="239.2" y="808.2" font-size="5.94" font-weight="bold" text-anchor="start" fill="#000" textLength="15.6" lengthAdjust="spacingAndGlyphs"  stroke="#000" stroke-width="0.13">pGrac</text><text x="309.8" y="807.4" font-size="5.94" font-weight="bold" text-anchor="start" fill="#000" textLength="9.8" lengthAdjust="spacingAndGlyphs"  stroke="#000" stroke-width="0.13">p43</text><path d="M279.3 826.8 Q283.0 834.5 295.9 836.4" fill="none" stroke="#111" stroke-width="1.4"/><path d="M292.6 837.7 L295.9 836.4 L293.1 834.2" fill="none" stroke="#111" stroke-width="1.4"/><path d="M356.4 826.8 Q356.0 838.0 346.8 844.0" fill="none" stroke="#111" stroke-width="1.4"/><path d="M348.4 840.8 L346.8 844.0 L350.4 843.8" fill="none" stroke="#111" stroke-width="1.4"/><rect x="159.8" y="850.8" width="119" height="49.2" rx="10" fill="none" stroke="#1f3864" stroke-width="1.5"/><rect x="180.9" y="845.7" width="80.7" height="10.9" fill="#ffc000"/><text x="221.3" y="854.0" font-size="9.46" font-weight="bold" text-anchor="middle" fill="#000" textLength="42.5" lengthAdjust="spacingAndGlyphs"  stroke="#000" stroke-width="0.21">comXQPA</text><text x="222.2" y="879.8" font-size="6.38" font-weight="bold" text-anchor="middle" fill="#000" textLength="38.3" lengthAdjust="spacingAndGlyphs"  stroke="#000" stroke-width="0.14">Chromosome</text></g><circle cx="305.7" cy="838.4" r="6.6" fill="#c5e0b4" opacity="0.9"/><circle cx="325.4" cy="864.1" r="6.6" fill="#c5e0b4" opacity="0.9"/><circle cx="311.0" cy="842.7" r="3.1" fill="#b4c7e7"/><circle cx="334.2" cy="837.7" r="3.1" fill="#b4c7e7"/><circle cx="343.6" cy="848.3" r="3.1" fill="#b4c7e7"/><circle cx="306.5" cy="861.9" r="3.1" fill="#b4c7e7"/><circle cx="332.5" cy="860.9" r="3.1" fill="#b4c7e7"/><path d="M337.3 871.2 Q342.0 879.5 353.9 880.8" fill="none" stroke="#111" stroke-width="1.4"/><path d="M350.6 882.3 L353.9 880.8 L351.0 878.7" fill="none" stroke="#111" stroke-width="1.4"/><text x="357.7" y="883.1" font-size="6.16" font-weight="bold" text-anchor="start" fill="#000" textLength="19.9" lengthAdjust="spacingAndGlyphs"  stroke="#000" stroke-width="0.14">survive</text><path d="M567.4 738 L567.4 734.2 M565.9 736.2 L567.4 733.2 L568.9 736.2 Z" stroke="#111" stroke-width="0.7" fill="#111"/><line x1="568" y1="765" x2="568" y2="773" stroke="#333" stroke-width="0.7"/><rect x="483.2" y="738.1" width="34.6" height="27.7" rx="7.5" fill="#00b0f0"/><rect x="548.8" y="738.1" width="37" height="27.7" rx="7.5" fill="#a9d18e"/><text x="500.5" y="755.5" font-size="9.40" font-weight="normal" text-anchor="middle" fill="#fff" textLength="21.9" lengthAdjust="spacingAndGlyphs" >ComP</text><text x="567.4" y="755.5" font-size="9.40" font-weight="normal" text-anchor="middle" fill="#fff" textLength="23.4" lengthAdjust="spacingAndGlyphs" >ComQ</text><circle cx="567.2" cy="726.7" r="5.8" fill="#ff0000"/><circle cx="568.4" cy="777.9" r="5.8" fill="#c00000"/><text x="579.8" y="730.0" font-size="6.16" font-weight="bold" text-anchor="start" fill="#000" textLength="16.9" lengthAdjust="spacingAndGlyphs"  stroke="#000" stroke-width="0.14">ComX</text><text x="581.0" y="780.9" font-size="6.16" font-weight="bold" text-anchor="start" fill="#000" textLength="29.0" lengthAdjust="spacingAndGlyphs"  stroke="#000" stroke-width="0.14">pre-ComX</text><ellipse cx="438.6" cy="770.4" rx="22.6" ry="7" fill="#f4b183"/><text x="439.2" y="773.8" font-size="10.00" font-weight="normal" text-anchor="middle" fill="#fff" textLength="25.0" lengthAdjust="spacingAndGlyphs" >ComA</text><g transform="translate(278.8 -0.7)"><path d="M171.1 820.3 L377 820.3 M374.5 818.3 L378.4 820.3 L374.5 822.3" fill="none" stroke="#111" stroke-width="0.9"/><path d="M178.4 820.3 L178.4 815.7 Q178.4 812.5 181.6 812.5 L185.3 812.5" fill="none" stroke="#000" stroke-width="3.1"/><path d="M184.9 809.2 L188.7 812.5 L184.9 815.8 Z" fill="#000"/><path d="M243.4 820.3 L243.4 815.7 Q243.4 812.5 246.6 812.5 L250.3 812.5" fill="none" stroke="#000" stroke-width="3.1"/><path d="M249.9 809.2 L253.7 812.5 L249.9 815.8 Z" fill="#000"/><path d="M310.0 820.3 L310.0 815.7 Q310.0 812.5 313.2 812.5 L316.9 812.5" fill="none" stroke="#000" stroke-width="3.1"/><path d="M316.5 809.2 L320.3 812.5 L316.5 815.8 Z" fill="#000"/><path d="M182.2 820.3 A3.2 3.2 0 0 1 188.6 820.3 Z" fill="#dcdde6" stroke="#1f3864" stroke-width="0.7"/><path d="M252.9 820.3 A3.2 3.2 0 0 1 259.3 820.3 Z" fill="#dcdde6" stroke="#1f3864" stroke-width="0.7"/><path d="M320.4 820.3 A3.2 3.2 0 0 1 326.8 820.3 Z" fill="#dcdde6" stroke="#1f3864" stroke-width="0.7"/><path d="M227.8 820.3 L227.8 813.4 M222.8 813.4 L232.8 813.4" fill="none" stroke="#222" stroke-width="1.2"/><path d="M296.9 820.3 L296.9 813.4 M291.9 813.4 L301.9 813.4" fill="none" stroke="#222" stroke-width="1.2"/><path d="M364.5 820.3 L364.5 813.4 M359.5 813.4 L369.5 813.4" fill="none" stroke="#222" stroke-width="1.2"/><path d="M190.5 815.8 L220.2 815.8 L224.4 820.3 L220.2 824.8 L190.5 824.8 Z" fill="#ffe699" stroke="#666" stroke-width="0.7"/><text x="206.2" y="822.8" font-size="7.70" font-weight="bold" text-anchor="middle" fill="#000" textLength="11.5" lengthAdjust="spacingAndGlyphs"  stroke="#000" stroke-width="0.17">lacI</text><path d="M261.1 815.8 L291.5 815.8 L295.7 820.3 L291.5 824.8 L261.1 824.8 Z" fill="#c5e0b4" stroke="#666" stroke-width="0.7"/><text x="277.2" y="822.8" font-size="7.70" font-weight="bold" text-anchor="middle" fill="#000" textLength="17.0" lengthAdjust="spacingAndGlyphs"  stroke="#000" stroke-width="0.17">mazF</text><path d="M327.9 815.8 L358.3 815.8 L362.5 820.3 L358.3 824.8 L327.9 824.8 Z" fill="#b4c7e7" stroke="#666" stroke-width="0.7"/><text x="344.0" y="822.8" font-size="7.70" font-weight="bold" text-anchor="middle" fill="#000" textLength="17.0" lengthAdjust="spacingAndGlyphs"  stroke="#000" stroke-width="0.17">mazE</text><text x="174.1" y="807.4" font-size="5.94" font-weight="bold" text-anchor="start" fill="#000" textLength="14.4" lengthAdjust="spacingAndGlyphs"  stroke="#000" stroke-width="0.13">psrfA</text><text x="239.2" y="808.2" font-size="5.94" font-weight="bold" text-anchor="start" fill="#000" textLength="15.6" lengthAdjust="spacingAndGlyphs"  stroke="#000" stroke-width="0.13">pGrac</text><text x="309.8" y="807.4" font-size="5.94" font-weight="bold" text-anchor="start" fill="#000" textLength="9.8" lengthAdjust="spacingAndGlyphs"  stroke="#000" stroke-width="0.13">p43</text><path d="M279.3 826.8 Q283.0 834.5 295.9 836.4" fill="none" stroke="#111" stroke-width="1.4"/><path d="M292.6 837.7 L295.9 836.4 L293.1 834.2" fill="none" stroke="#111" stroke-width="1.4"/><path d="M356.4 826.8 Q356.0 838.0 346.8 844.0" fill="none" stroke="#111" stroke-width="1.4"/><path d="M348.4 840.8 L346.8 844.0 L350.4 843.8" fill="none" stroke="#111" stroke-width="1.4"/><rect x="159.8" y="850.8" width="119" height="49.2" rx="10" fill="none" stroke="#1f3864" stroke-width="1.5"/><rect x="180.9" y="845.7" width="80.7" height="10.9" fill="#ffc000"/><text x="221.3" y="854.0" font-size="9.46" font-weight="bold" text-anchor="middle" fill="#000" textLength="42.5" lengthAdjust="spacingAndGlyphs"  stroke="#000" stroke-width="0.21">comXQPA</text><text x="222.2" y="879.8" font-size="6.38" font-weight="bold" text-anchor="middle" fill="#000" textLength="38.3" lengthAdjust="spacingAndGlyphs"  stroke="#000" stroke-width="0.14">Chromosome</text></g><circle cx="585.3" cy="838.2" r="6.6" fill="#c5e0b4" opacity="0.9"/><circle cx="604.2" cy="834.4" r="6.6" fill="#c5e0b4" opacity="0.9"/><circle cx="582.3" cy="858.4" r="6.6" fill="#c5e0b4" opacity="0.9"/><circle cx="604.7" cy="864.1" r="6.6" fill="#c5e0b4" opacity="0.9"/><circle cx="628.9" cy="864.1" r="6.6" fill="#c5e0b4" opacity="0.9"/><circle cx="590.4" cy="842.2" r="3.1" fill="#b4c7e7"/><circle cx="608.8" cy="838.4" r="3.1" fill="#b4c7e7"/><circle cx="619.9" cy="840.7" r="3.1" fill="#b4c7e7"/><path d="M616.3 871.2 Q621.0 879.5 633.2 880.8" fill="none" stroke="#111" stroke-width="1.4"/><path d="M629.9 882.3 L633.2 880.8 L630.3 878.7" fill="none" stroke="#111" stroke-width="1.4"/><text x="637.0" y="883.0" font-size="6.16" font-weight="bold" text-anchor="start" fill="#000" textLength="15.9" lengthAdjust="spacingAndGlyphs"  stroke="#000" stroke-width="0.14">death</text>
<!-- p06_function.py -->
<text x="923.7" y="127.0" font-size="22.88" font-weight="bold" text-anchor="start" fill="#000" textLength="229.4" lengthAdjust="spacingAndGlyphs"  stroke="#000" stroke-width="0.50">Function test module</text><circle cx="899" cy="287.7" r="47.4" fill="url(#sph)" filter="url(#soft)"/><path d="M978.6 218.5 L920.8 290.2 L987 339" fill="none" stroke="#111" stroke-width="1.5" stroke-dasharray="7.6 4.2"/><ellipse cx="1061.3" cy="274.6" rx="100.7" ry="97.2" fill="none" stroke="#1b2a4e" stroke-width="2.4"/><g transform="translate(1063.1 270.8) scale(1.230)"><path d="M-27.8 -44.0 C-26.78 -46.08 -23.73 -50.91 -21.15 -51.58 C-18.57 -52.25 -15.28 -50.84 -12.34 -48.05 C-9.41 -45.26 -7.10 -38.41 -3.53 -34.84 C0.03 -31.27 4.44 -26.97 9.05 -26.66 C13.67 -26.34 19.75 -30.96 24.16 -32.95 C28.56 -34.94 32.44 -38.72 35.49 -38.61 C38.53 -38.51 41.78 -35.36 42.41 -32.32 C43.04 -29.28 40.63 -24.04 39.26 -20.36 C37.90 -16.69 33.81 -13.65 34.23 -10.30 C34.65 -6.94 38.42 -3.48 41.78 -0.23 C45.14 3.03 51.11 5.86 54.37 9.21 C57.62 12.57 61.29 16.66 61.29 19.91 C61.29 23.16 58.67 27.04 54.37 28.72 C50.06 30.40 40.94 29.35 35.49 29.98 C30.03 30.61 25.00 30.61 21.64 32.50 C18.28 34.39 17.86 38.27 15.35 41.31 C12.83 44.35 9.89 49.49 6.54 50.75 C3.18 52.01 -1.85 50.85 -4.79 48.86 C-7.73 46.87 -9.51 42.57 -11.08 38.79 C-12.66 35.02 -12.13 29.35 -14.23 26.21 C-16.33 23.06 -18.32 21.28 -23.67 19.91 C-29.02 18.55 -40.35 19.49 -46.33 18.02 C-52.31 16.56 -58.49 14.14 -59.54 11.10 C-60.59 8.06 -56.92 2.82 -52.62 -0.23 C-48.32 -3.27 -38.67 -4.84 -33.74 -7.15 C-28.81 -9.46 -24.93 -10.82 -23.04 -14.07 C-21.15 -17.32 -21.68 -22.46 -22.41 -26.66 C-23.15 -30.85 -26.55 -36.35 -27.45 -39.24 C-28.35 -42.14 -28.87 -41.97 -27.82 -44.03 Z" fill="#cfecf4" stroke="#7fc4c9" stroke-width="0.5"/><rect x="-8" y="-3" width="16" height="6" rx="3" transform="translate(-9.8 -10.9) rotate(72)" fill="#ccd1f2" stroke="#a9a9dc" stroke-width="0.6"/><rect x="-8" y="-3" width="16" height="6" rx="3" transform="translate(5.5 -15.3) rotate(-6)" fill="#ccd1f2" stroke="#a9a9dc" stroke-width="0.6"/><rect x="-8" y="-3" width="16" height="6" rx="3" transform="translate(20.1 -7.4) rotate(5)" fill="#ccd1f2" stroke="#a9a9dc" stroke-width="0.6"/><rect x="-8" y="-3" width="16" height="6" rx="3" transform="translate(0.0 -2.7) rotate(-33)" fill="#ccd1f2" stroke="#a9a9dc" stroke-width="0.6"/><rect x="-8" y="-3" width="16" height="6" rx="3" transform="translate(-17.6 3.3) rotate(26)" fill="#ccd1f2" stroke="#a9a9dc" stroke-width="0.6"/><rect x="-8" y="-3" width="16" height="6" rx="3" transform="translate(27.1 4.2) rotate(24)" fill="#ccd1f2" stroke="#a9a9dc" stroke-width="0.6"/><rect x="-8" y="-3" width="16" height="6" rx="3" transform="translate(-1.0 11.1) rotate(-47)" fill="#ccd1f2" stroke="#a9a9dc" stroke-width="0.6"/><rect x="-8" y="-3" width="16" height="6" rx="3" transform="translate(12.2 9.2) rotate(84)" fill="#ccd1f2" stroke="#a9a9dc" stroke-width="0.6"/><rect x="-8" y="-3" width="16" height="6" rx="3" transform="translate(27.1 15.5) rotate(3)" fill="#ccd1f2" stroke="#a9a9dc" stroke-width="0.6"/></g><ellipse cx="1018.5" cy="604.3" rx="233.5" ry="183.1" fill="none" stroke="#1a2a52" stroke-width="4.3"/><path d="M1061.6 289.9 L841.8 478.2 M1061.6 289.9 L1215.4 506.5" fill="none" stroke="#000" stroke-width="2.8" stroke-dasharray="11.2 7.6"/><text x="985.0" y="442.7" font-size="10.56" font-weight="bold" text-anchor="start" fill="#2a2a2a" textLength="45.6" lengthAdjust="spacingAndGlyphs"  stroke="#2a2a2a" stroke-width="0.23">Detection</text><path d="M936.4 465.9 L1080.5 465.9 M1078.4 463.9 L1082 465.9 L1078.4 467.9" fill="none" stroke="#111" stroke-width="0.9"/><path d="M945.8 465.9 L945.8 458.9 Q945.8 455.7 949.0 455.7 L953.6 455.7" fill="none" stroke="#000" stroke-width="3.3"/><path d="M953.2 452.4 L957.0 455.7 L953.2 459.0 Z" fill="#000"/><path d="M1016.3 465.9 L1016.3 458.9 Q1016.3 455.7 1019.5 455.7 L1024.1 455.7" fill="none" stroke="#000" stroke-width="3.3"/><path d="M1023.7 452.4 L1027.5 455.7 L1023.7 459.0 Z" fill="#000"/><path d="M1002.6 465.9 L1002.6 457.9 M996.6 457.9 L1008.6 457.9" fill="none" stroke="#222" stroke-width="1.4"/><path d="M1075.4 465.9 L1075.4 457.9 M1069.4 457.9 L1081.4 457.9" fill="none" stroke="#222" stroke-width="1.4"/><path d="M959.1 460.9 L993.3 460.9 L997.5 465.9 L993.3 470.8 L959.1 470.8 Z" fill="#ffe699" stroke="#666" stroke-width="0.7"/><text x="977.1" y="468.9" font-size="8.20" font-weight="normal" text-anchor="middle" fill="#222" textLength="17.5" lengthAdjust="spacingAndGlyphs" >cadR</text><path d="M1028.0 460.9 L1065.3 460.9 L1069.5 465.9 L1065.3 470.8 L1028.0 470.8 Z" fill="#ff0000" stroke="#666" stroke-width="0.7"/><text x="1047.5" y="468.8" font-size="8.00" font-weight="normal" text-anchor="middle" fill="#7a0000" textLength="29.0" lengthAdjust="spacingAndGlyphs" >mcherry</text><circle cx="1022.9" cy="467.6" r="6.1" fill="#ffe699"/><circle cx="1023.6" cy="461.6" r="4.1" fill="#000"/><text x="1023.1" y="462.6" font-size="2.86" font-weight="bold" text-anchor="middle" fill="#fff" >Cd</text><text x="1025.7" y="461.4" font-size="1.72" font-weight="bold" text-anchor="middle" fill="#fff" >2+</text><path d="M978.3 473.2 L978.3 479.6 M976.5 477.4 L978.3 480 L980.1 477.4" fill="none" stroke="#1f3864" stroke-width="0.6"/><path d="M1046.0 473.2 L1046.0 479.6 M1044.2 477.4 L1046.0 480 L1047.8 477.4" fill="none" stroke="#1f3864" stroke-width="0.6"/><path d="M973.6 479.2 A6.3 6.3 0 1 0 983.4 479.2 A5 4.2 0 0 1 973.6 479.2 Z" fill="#ffe699"/><circle cx="955.8" cy="488.8" r="6.6" fill="#ffe699"/><circle cx="955.2" cy="482.4" r="4.3" fill="#000"/><text x="954.7" y="483.4" font-size="3.00" font-weight="bold" text-anchor="middle" fill="#fff" >Cd</text><text x="957.4" y="482.2" font-size="1.80" font-weight="bold" text-anchor="middle" fill="#fff" >2+</text><circle cx="1007" cy="489" r="6.6" fill="#ffe699"/><circle cx="1007.5" cy="482.4" r="4.3" fill="#000"/><text x="1007.0" y="483.4" font-size="3.00" font-weight="bold" text-anchor="middle" fill="#fff" >Cd</text><text x="1009.7" y="482.2" font-size="1.80" font-weight="bold" text-anchor="middle" fill="#fff" >2+</text><circle cx="1046" cy="489" r="5.2" fill="#ff0000" filter="url(#glow)"/><circle cx="974.4" cy="498.3" r="4.3" fill="#000"/><text x="973.9" y="499.3" font-size="3.00" font-weight="bold" text-anchor="middle" fill="#fff" >Cd</text><text x="976.6" y="498.1" font-size="1.80" font-weight="bold" text-anchor="middle" fill="#fff" >2+</text><pattern id="mbE" x="924.30" y="514.30" width="2.457" height="14.40" patternUnits="userSpaceOnUse"><rect width="2.457" height="14.40" fill="#f6f9fd"/><path d="M1.23 2.40 L0.57 6.30 M1.23 2.40 L1.89 6.30 M1.23 12.00 L0.57 8.10 M1.23 12.00 L1.89 8.10" stroke="#b3cbec" stroke-width="0.70" fill="none"/><circle cx="1.23" cy="1.20" r="1.20" fill="#4f86c6"/><circle cx="1.23" cy="13.20" r="1.20" fill="#4f86c6"/></pattern><rect x="924.30" y="514.30" width="176.90" height="14.40" fill="url(#mbE)"/><ellipse cx="969.6" cy="524.8" rx="5.6" ry="17.2" fill="#c5e0b4"/><ellipse cx="981" cy="524.8" rx="5.6" ry="17.2" fill="#c5e0b4"/><path d="M975.4 541 L975.4 507.5 M973.6 510.4 L975.4 507 L977.2 510.4" fill="none" stroke="#333" stroke-width="0.6"/><circle cx="975.7" cy="548.6" r="4.3" fill="#000"/><text x="975.2" y="549.6" font-size="3.00" font-weight="bold" text-anchor="middle" fill="#fff" >Cd</text><text x="977.9" y="548.4" font-size="1.80" font-weight="bold" text-anchor="middle" fill="#fff" >2+</text><g filter="url(#sh)"><path d="M1117.3 505 C1133 508.5 1144 518 1147.5 531.5 L1157.9 529.6 L1146 547.8 L1128.2 535.8 L1136.8 533.6 C1134.5 521 1127.5 511.5 1117.3 505 Z" fill="#000"/><path d="M1065.6 674.2 C1059.5 684.5 1048 690.5 1030 690.2 L1025.4 701.2 L1013.8 683.5 L1032.6 672.2 L1030.5 680.2 C1045 681 1057 679.5 1065.6 674.2 Z" fill="#000"/></g><text x="1104.6" y="588.1" font-size="10.56" font-weight="bold" text-anchor="start" fill="#2a2a2a" textLength="52.6" lengthAdjust="spacingAndGlyphs"  stroke="#2a2a2a" stroke-width="0.23">Adsorption</text><pattern id="mbF" x="1070.10" y="596.80" width="3.707" height="19.40" patternUnits="userSpaceOnUse"><rect width="3.707" height="19.40" fill="#f8fbfe"/><path d="M1.85 3.40 L0.85 8.80 M1.85 3.40 L2.85 8.80 M1.85 16.00 L0.85 10.60 M1.85 16.00 L2.85 10.60" stroke="#b9d2ee" stroke-width="0.45" fill="none"/><circle cx="1.85" cy="1.70" r="1.70" fill="#4f86c6"/><circle cx="1.85" cy="17.70" r="1.70" fill="#4f86c6"/></pattern><rect x="1070.10" y="596.80" width="111.20" height="19.40" fill="url(#mbF)"/><line x1="1122" y1="624.5" x2="1128.5" y2="624.5" stroke="#223" stroke-width="1"/><path d="M1134.2 620.3 L1129 620.3 L1129 628.7 L1134.2 628.7" fill="none" stroke="#c5e0b4" stroke-width="2.2" stroke-linejoin="round" stroke-linecap="round"/><line x1="1122" y1="640.3" x2="1128.5" y2="640.3" stroke="#223" stroke-width="1"/><path d="M1134.2 636.1 L1129 636.1 L1129 644.5 L1134.2 644.5" fill="none" stroke="#c5e0b4" stroke-width="2.2" stroke-linejoin="round" stroke-linecap="round"/><line x1="1122" y1="656.3" x2="1128.5" y2="656.3" stroke="#223" stroke-width="1"/><path d="M1134.2 652.1 L1129 652.1 L1129 660.5 L1134.2 660.5" fill="none" stroke="#c5e0b4" stroke-width="2.2" stroke-linejoin="round" stroke-linecap="round"/><line x1="1122" y1="671.7" x2="1128.5" y2="671.7" stroke="#223" stroke-width="1"/><path d="M1134.2 667.5 L1129 667.5 L1129 675.9 L1134.2 675.9" fill="none" stroke="#c5e0b4" stroke-width="2.2" stroke-linejoin="round" stroke-linecap="round"/><line x1="1122" y1="687.4" x2="1128.5" y2="687.4" stroke="#223" stroke-width="1"/><path d="M1134.2 683.2 L1129 683.2 L1129 691.6 L1134.2 691.6" fill="none" stroke="#c5e0b4" stroke-width="2.2" stroke-linejoin="round" stroke-linecap="round"/><line x1="1122" y1="703.4" x2="1128.5" y2="703.4" stroke="#223" stroke-width="1"/><path d="M1134.2 699.2 L1129 699.2 L1129 707.6 L1134.2 707.6" fill="none" stroke="#c5e0b4" stroke-width="2.2" stroke-linejoin="round" stroke-linecap="round"/><ellipse cx="1116.5" cy="624.5" rx="7.3" ry="8.2" fill="#ffc000"/><ellipse cx="1116.5" cy="640.3" rx="7.3" ry="8.2" fill="#ffc000"/><ellipse cx="1116.5" cy="656.3" rx="7.3" ry="8.2" fill="#ffc000"/><ellipse cx="1116.5" cy="671.7" rx="7.3" ry="8.2" fill="#ffc000"/><ellipse cx="1116.5" cy="687.4" rx="7.3" ry="8.2" fill="#ffc000"/><ellipse cx="1116.5" cy="703.4" rx="7.3" ry="8.2" fill="#ffc000"/><circle cx="1136.4" cy="624.8" r="6.2" fill="#000"/><text x="1135.7" y="626.2" font-size="4.33" font-weight="bold" text-anchor="middle" fill="#fff" >Cd</text><text x="1139.6" y="624.5" font-size="2.60" font-weight="bold" text-anchor="middle" fill="#fff" >2+</text><circle cx="1137.3" cy="656.7" r="6.2" fill="#000"/><text x="1136.6" y="658.1" font-size="4.33" font-weight="bold" text-anchor="middle" fill="#fff" >Cd</text><text x="1140.5" y="656.4" font-size="2.60" font-weight="bold" text-anchor="middle" fill="#fff" >2+</text><circle cx="1137.3" cy="688.6" r="6.2" fill="#000"/><text x="1136.6" y="690.0" font-size="4.33" font-weight="bold" text-anchor="middle" fill="#fff" >Cd</text><text x="1140.5" y="688.3" font-size="2.60" font-weight="bold" text-anchor="middle" fill="#fff" >2+</text><line x1="1177.5" y1="658" x2="1177.5" y2="666" stroke="#16202e" stroke-width="1.2"/><circle cx="1177.2" cy="647.6" r="11.8" fill="#ffc000"/><path d="M1170.8 673.6 L1170.8 666.9 L1183 666.9 L1183 673.6" fill="none" stroke="#c5e0b4" stroke-width="2.6" stroke-linejoin="round" stroke-linecap="round"/><line x1="1179.3" y1="647.1" x2="1208.6" y2="647.1" stroke="#16202e" stroke-width="1.4"/><line x1="1181.3" y1="669.2" x2="1199.8" y2="669.2" stroke="#16202e" stroke-width="1.4"/><text x="1213.7" y="650.8" font-size="9.46" font-weight="bold" text-anchor="start" fill="#000" textLength="19.9" lengthAdjust="spacingAndGlyphs"  stroke="#000" stroke-width="0.21">TasA</text><text x="1202.8" y="673.7" font-size="9.46" font-weight="bold" text-anchor="start" fill="#000" textLength="23.6" lengthAdjust="spacingAndGlyphs"  stroke="#000" stroke-width="0.21">SmtA</text><text x="894.7" y="585.6" font-size="10.56" font-weight="bold" text-anchor="start" fill="#2a2a2a" textLength="32.9" lengthAdjust="spacingAndGlyphs"  stroke="#2a2a2a" stroke-width="0.23">Elution</text><text x="819.0" y="611.6" font-size="6.60" font-weight="bold" text-anchor="start" fill="#111" textLength="25.0" lengthAdjust="spacingAndGlyphs"  stroke="#111" stroke-width="0.15">High pH</text><text x="925.6" y="609.8" font-size="6.60" font-weight="bold" text-anchor="start" fill="#111" textLength="22.3" lengthAdjust="spacingAndGlyphs"  stroke="#111" stroke-width="0.15">Low pH</text><path d="M816 677.8 Q860 644 903.9 677.8 Z" fill="#c5e0b4"/><path d="M913.3 677.8 Q957.3 644 1001.4 677.8 Z" fill="#c5e0b4"/><text x="863.7" y="674.6" font-size="6.60" font-weight="bold" text-anchor="middle" fill="#111" textLength="16.0" lengthAdjust="spacingAndGlyphs"  stroke="#111" stroke-width="0.15">SmtA</text><text x="960.8" y="673.8" font-size="6.60" font-weight="bold" text-anchor="middle" fill="#111" textLength="16.4" lengthAdjust="spacingAndGlyphs"  stroke="#111" stroke-width="0.15">SmtA</text><path d="M907 631.9 L917.6 631.9 L917.6 629.4 L924.6 634.4 L917.6 639.4 L917.6 636.9 L907 636.9 Z" fill="#000"/><path d="M845.8 625.6 L848 634.5 M851.5 638 L858.5 643.5 M864 619.5 L876.3 615 M866.5 646 L870 649 M874.5 652 L881.5 657" fill="none" stroke="#555" stroke-width="0.5"/><text x="849.6" y="637.8" font-size="2.80" font-weight="normal" text-anchor="middle" fill="#333" >N,N</text><text x="861.5" y="618.6" font-size="2.60" font-weight="normal" text-anchor="middle" fill="#333" >COO-</text><text x="872.2" y="651.6" font-size="2.80" font-weight="normal" text-anchor="middle" fill="#333" >NH</text><path d="M859.4 621.5 C869.9 620.3 869.9 624.6 859.4 624.2 C858.4 624.0 858.4 625.1 859.4 624.9 C869.9 623.7 869.9 628.0 859.4 627.6 C858.4 627.4 858.4 628.5 859.4 628.3 C869.9 627.1 869.9 631.4 859.4 631.0 C858.4 630.8 858.4 631.9 859.4 631.7 C869.9 630.5 869.9 634.8 859.4 634.4 C858.4 634.2 858.4 635.3 859.4 635.1 C869.9 633.9 869.9 638.2 859.4 637.8 C858.4 637.6 858.4 638.7 859.4 638.5 C869.9 637.3 869.9 641.6 859.4 641.2 C858.4 641.0 858.4 642.1 859.4 641.9 C869.9 640.7 869.9 645.0 859.4 644.6 C858.4 644.4 858.4 645.5 859.4 645.3 C852.4 645.8 851.4 650.3 856.4 651.3 C861.4 652.3 861.6 655.3 861.6 661.5 " fill="none" stroke="#3a74d6" stroke-width="1.1"/><circle cx="844.7" cy="620.8" r="5.0" fill="#ffc000" stroke="#c79a00" stroke-width="0.6"/><text x="844.1" y="622.1" font-size="3.60" font-weight="normal" text-anchor="middle" fill="#7a5a00" >Cd</text><text x="847.3" y="620.6" font-size="2.00" font-weight="normal" text-anchor="middle" fill="#7a5a00" >2+</text><circle cx="881.1" cy="613.7" r="5.0" fill="#ffc000" stroke="#c79a00" stroke-width="0.6"/><text x="880.5" y="615.0" font-size="3.60" font-weight="normal" text-anchor="middle" fill="#7a5a00" >Cd</text><text x="883.7" y="613.5" font-size="2.00" font-weight="normal" text-anchor="middle" fill="#7a5a00" >2+</text><circle cx="886.0" cy="659.8" r="5.0" fill="#ffc000" stroke="#c79a00" stroke-width="0.6"/><text x="885.4" y="661.1" font-size="3.60" font-weight="normal" text-anchor="middle" fill="#7a5a00" >Cd</text><text x="888.6" y="659.6" font-size="2.00" font-weight="normal" text-anchor="middle" fill="#7a5a00" >2+</text><path d="M950 638.5 L958 644 M966 646 L969 649" fill="none" stroke="#555" stroke-width="0.5"/><path d="M944.4 627.4 L946.8 635 M948.6 640.5 L947.6 643.5 M961.5 617.6 L958.8 610.5 M965 617.8 L971.5 616.4 M972.8 649.2 L975.2 644.6 M973.5 653.4 L977.2 656" fill="none" stroke="#ff5a7a" stroke-width="0.6" stroke-dasharray="1.4 0.9"/><text x="948.3" y="639.6" font-size="2.80" font-weight="normal" text-anchor="middle" fill="#333" >N,N</text><text x="961.6" y="619.2" font-size="2.60" font-weight="normal" text-anchor="middle" fill="#333" >COO</text><text x="970.2" y="652.4" font-size="2.80" font-weight="normal" text-anchor="middle" fill="#333" >NH</text><text x="959.4" y="608.8" font-size="2.80" font-weight="normal" text-anchor="middle" fill="#222" >H+</text><text x="947.3" y="646.4" font-size="2.80" font-weight="normal" text-anchor="middle" fill="#222" >H+</text><text x="976.0" y="643.4" font-size="2.80" font-weight="normal" text-anchor="middle" fill="#222" >H+</text><path d="M956.7 621.5 C967.1 620.3 967.1 624.6 956.7 624.2 C955.7 624.0 955.7 625.1 956.7 624.9 C967.1 623.7 967.1 628.0 956.7 627.6 C955.7 627.4 955.7 628.5 956.7 628.3 C967.1 627.1 967.1 631.4 956.7 631.0 C955.7 630.8 955.7 631.9 956.7 631.7 C967.1 630.5 967.1 634.8 956.7 634.4 C955.7 634.2 955.7 635.3 956.7 635.1 C967.1 633.9 967.1 638.2 956.7 637.8 C955.7 637.6 955.7 638.7 956.7 638.5 C967.1 637.3 967.1 641.6 956.7 641.2 C955.7 641.0 955.7 642.1 956.7 641.9 C967.1 640.7 967.1 645.0 956.7 644.6 C955.7 644.4 955.7 645.5 956.7 645.3 C949.7 645.8 948.7 650.3 953.7 651.3 C958.7 652.3 958.9 655.3 958.9 661.5 " fill="none" stroke="#3a74d6" stroke-width="1.1"/><circle cx="943.4" cy="622.5" r="5.0" fill="#ffc000" stroke="#c79a00" stroke-width="0.6"/><text x="942.8" y="623.8" font-size="3.60" font-weight="normal" text-anchor="middle" fill="#7a5a00" >Cd</text><text x="946.0" y="622.3" font-size="2.00" font-weight="normal" text-anchor="middle" fill="#7a5a00" >2+</text><circle cx="976.8" cy="615.7" r="5.0" fill="#ffc000" stroke="#c79a00" stroke-width="0.6"/><text x="976.2" y="617.0" font-size="3.60" font-weight="normal" text-anchor="middle" fill="#7a5a00" >Cd</text><text x="979.4" y="615.5" font-size="2.00" font-weight="normal" text-anchor="middle" fill="#7a5a00" >2+</text><circle cx="981.3" cy="659.4" r="5.0" fill="#ffc000" stroke="#c79a00" stroke-width="0.6"/><text x="980.7" y="660.7" font-size="3.60" font-weight="normal" text-anchor="middle" fill="#7a5a00" >Cd</text><text x="983.9" y="659.2" font-size="2.00" font-weight="normal" text-anchor="middle" fill="#7a5a00" >2+</text>
</svg>
</body></html>
